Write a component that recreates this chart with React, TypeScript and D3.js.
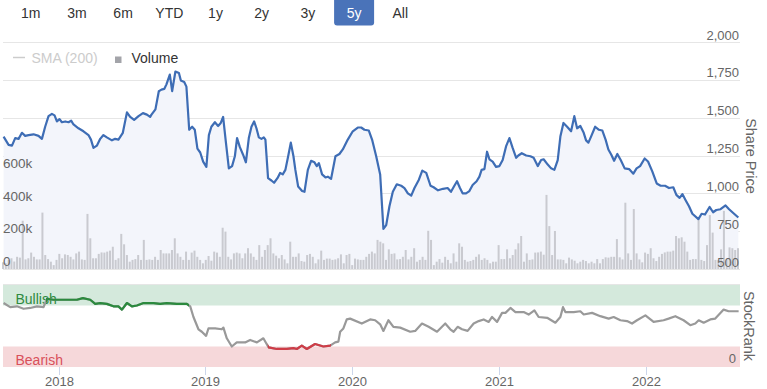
import React, { useEffect, useRef } from 'react';
import * as d3 from 'd3';

// Range selector
const rangeButtons = ['1m', '3m', '6m', 'YTD', '1y', '2y', '3y', '5y', 'All'];
const selectedRange = '5y';

// Share price, [decimal year, price]
const sharePrice = [
  [2017.626, 1375], [2017.66, 1320], [2017.683, 1315], [2017.705, 1365], [2017.728, 1360], [2017.751, 1400],
  [2017.773, 1380], [2017.796, 1385], [2017.83, 1390], [2017.864, 1380], [2017.887, 1360], [2017.909, 1440],
  [2017.932, 1510], [2017.955, 1525], [2017.973, 1515], [2017.989, 1475], [2018.007, 1490], [2018.023, 1470],
  [2018.046, 1475], [2018.068, 1470], [2018.086, 1480], [2018.102, 1455], [2018.136, 1430], [2018.17, 1410],
  [2018.204, 1385], [2018.221, 1355], [2018.238, 1300], [2018.261, 1315], [2018.284, 1360], [2018.306, 1385],
  [2018.329, 1370], [2018.364, 1350], [2018.386, 1360], [2018.408, 1355], [2018.438, 1400], [2018.466, 1535],
  [2018.488, 1505], [2018.515, 1485], [2018.545, 1510], [2018.575, 1530], [2018.602, 1520], [2018.624, 1505],
  [2018.633, 1520], [2018.66, 1555], [2018.683, 1675], [2018.701, 1685], [2018.72, 1690], [2018.735, 1720],
  [2018.758, 1785], [2018.774, 1675], [2018.796, 1805], [2018.82, 1795], [2018.833, 1745], [2018.856, 1735],
  [2018.871, 1705], [2018.89, 1420], [2018.91, 1440], [2018.928, 1420], [2018.946, 1295], [2018.965, 1270],
  [2018.985, 1210], [2019.007, 1175], [2019.024, 1385], [2019.041, 1440], [2019.065, 1470], [2019.087, 1445],
  [2019.105, 1465], [2019.121, 1505], [2019.139, 1345], [2019.16, 1165], [2019.182, 1180], [2019.201, 1245],
  [2019.216, 1365], [2019.235, 1305], [2019.257, 1255], [2019.276, 1205], [2019.296, 1365], [2019.314, 1440],
  [2019.332, 1475], [2019.348, 1430], [2019.364, 1370], [2019.382, 1360], [2019.398, 1370], [2019.409, 1355],
  [2019.427, 1100], [2019.45, 1085], [2019.468, 1070], [2019.491, 1100], [2019.509, 1135], [2019.527, 1125],
  [2019.545, 1155], [2019.564, 1245], [2019.582, 1335], [2019.6, 1245], [2019.613, 1155], [2019.632, 1045],
  [2019.659, 1015], [2019.675, 1010], [2019.698, 1155], [2019.72, 1215], [2019.743, 1205], [2019.759, 1180],
  [2019.773, 1200], [2019.795, 1125], [2019.818, 1105], [2019.834, 1110], [2019.856, 1095], [2019.886, 1245],
  [2019.913, 1260], [2019.936, 1290], [2019.97, 1355], [2020.004, 1410], [2020.038, 1435], [2020.061, 1435],
  [2020.083, 1420], [2020.113, 1415], [2020.135, 1355], [2020.163, 1245], [2020.19, 1125], [2020.212, 765],
  [2020.231, 790], [2020.253, 915], [2020.276, 1010], [2020.303, 1060], [2020.333, 1050], [2020.355, 1035],
  [2020.378, 1000], [2020.401, 985], [2020.423, 1035], [2020.453, 1090], [2020.476, 1150], [2020.503, 1135],
  [2020.532, 1050], [2020.553, 1040], [2020.583, 1020], [2020.617, 1030], [2020.648, 1035], [2020.671, 1010],
  [2020.694, 1050], [2020.712, 1080], [2020.732, 1035], [2020.75, 1000], [2020.773, 1000], [2020.796, 1015],
  [2020.818, 1055], [2020.845, 1080], [2020.864, 1110], [2020.879, 1155], [2020.898, 1160], [2020.916, 1275],
  [2020.932, 1225], [2020.954, 1210], [2020.977, 1175], [2021.0, 1180], [2021.022, 1220], [2021.045, 1310],
  [2021.068, 1365], [2021.09, 1300], [2021.114, 1235], [2021.129, 1250], [2021.152, 1265], [2021.182, 1250],
  [2021.211, 1245], [2021.233, 1235], [2021.261, 1180], [2021.284, 1220], [2021.301, 1225], [2021.329, 1190],
  [2021.352, 1165], [2021.374, 1155], [2021.397, 1220], [2021.415, 1375], [2021.436, 1465], [2021.461, 1440],
  [2021.488, 1410], [2021.51, 1510], [2021.529, 1430], [2021.551, 1445], [2021.574, 1400], [2021.59, 1350],
  [2021.606, 1335], [2021.624, 1375], [2021.652, 1440], [2021.678, 1420], [2021.701, 1415], [2021.723, 1355],
  [2021.742, 1290], [2021.762, 1255], [2021.781, 1215], [2021.803, 1260], [2021.826, 1220], [2021.853, 1165],
  [2021.883, 1160], [2021.912, 1130], [2021.934, 1165], [2021.958, 1180], [2021.989, 1230], [2022.012, 1210],
  [2022.041, 1145], [2022.071, 1065], [2022.098, 1050], [2022.128, 1050], [2022.155, 1035], [2022.184, 1040],
  [2022.205, 990], [2022.227, 970], [2022.246, 995], [2022.268, 955], [2022.291, 915], [2022.314, 865],
  [2022.355, 830], [2022.377, 865], [2022.4, 860], [2022.431, 910], [2022.455, 875], [2022.477, 890],
  [2022.506, 895], [2022.54, 920], [2022.564, 895], [2022.598, 865], [2022.627, 840],
];

// Weekly volume (thousands), first week below
const volumeStart = Date.UTC(2017, 7, 16);
const volumeK = [
  41, 35, 56, 66, 46, 75, 70, 297, 59, 66, 101, 75, 59, 59, 347, 86, 61, 45, 24, 56,
  93, 66, 90, 86, 75, 59, 96, 107, 59, 56, 339, 189, 66, 66, 93, 102, 101, 107, 113, 137,
  56, 66, 216, 152, 86, 45, 56, 61, 86, 56, 179, 56, 59,
  56, 75, 56, 117, 96, 96, 96, 117, 189, 96, 75, 56, 107, 56, 101, 113, 75, 56, 35, 56,
  80, 51, 107, 101, 75, 254, 230, 75, 59, 96, 101, 96, 66, 96, 128, 96, 75, 56, 147, 75,
  117, 147, 189, 96, 82, 66, 86, 59, 35, 168, 75, 75,
  96, 49, 45, 86, 93, 75, 35, 59, 113, 56, 64, 64, 56, 59, 66, 90, 35, 86, 93, 24,
  64, 59, 56, 56, 75, 93, 107, 96, 179, 168, 158, 56, 121, 93, 96, 59, 61, 75, 117, 59,
  75, 128, 45, 56, 75, 56, 235, 179, 24, 45, 61, 39, 75,
  56, 35, 96, 45, 158, 137, 56, 45, 49, 56, 75, 90, 56, 66, 56, 35, 45, 45, 147, 61,
  61, 121, 66, 86, 121, 158, 203, 45, 96, 56, 59, 101, 102, 107, 88, 456, 264, 86, 234, 59,
  59, 56, 35, 70, 59, 51, 35, 45, 56, 49, 35, 45,
  35, 61, 35, 61, 72, 70, 75, 75, 184, 72, 59, 408, 96, 56, 369, 96, 59, 41, 101, 93,
  128, 66, 49, 75, 93, 102, 107, 107, 113, 203, 189, 195, 168, 107, 56, 61, 61, 320, 56, 49,
  147, 332, 224, 56, 56, 121, 358, 59, 133, 128, 117, 128,
];

// StockRank, [decimal year, rank]
const stockRank = [
  [2017.626, 78], [2017.671, 73], [2017.717, 74], [2017.762, 71], [2017.807, 72], [2017.853, 74],
  [2017.898, 73], [2017.921, 83], [2017.966, 82], [2018.057, 82], [2018.125, 82], [2018.166, 84],
  [2018.216, 82], [2018.25, 77], [2018.284, 78], [2018.329, 77], [2018.374, 74], [2018.408, 74],
  [2018.432, 70], [2018.466, 78], [2018.5, 74], [2018.534, 75], [2018.579, 78], [2018.647, 78],
  [2018.692, 77], [2018.738, 78], [2018.806, 77], [2018.874, 77], [2018.897, 74], [2018.919, 61],
  [2018.953, 46], [2018.976, 43], [2019.005, 38], [2019.021, 47], [2019.067, 47], [2019.112, 46],
  [2019.123, 48], [2019.146, 35], [2019.18, 25], [2019.214, 30], [2019.271, 30], [2019.305, 33],
  [2019.351, 30], [2019.395, 35], [2019.43, 24], [2019.487, 22], [2019.555, 22], [2019.6, 23],
  [2019.623, 22], [2019.657, 26], [2019.691, 22], [2019.747, 28], [2019.804, 25], [2019.85, 26],
  [2019.884, 30], [2019.906, 31], [2019.918, 43], [2019.94, 47], [2019.963, 58], [2019.986, 59],
  [2020.065, 53], [2020.122, 58], [2020.156, 57], [2020.19, 52], [2020.212, 44], [2020.246, 57],
  [2020.28, 49], [2020.326, 48], [2020.394, 43], [2020.428, 44], [2020.474, 53], [2020.519, 49],
  [2020.576, 43], [2020.632, 53], [2020.666, 46], [2020.689, 43], [2020.716, 49], [2020.746, 46],
  [2020.784, 44], [2020.825, 53], [2020.859, 56], [2020.893, 58], [2020.927, 55], [2020.95, 61],
  [2020.984, 55], [2021.018, 66], [2021.041, 66], [2021.075, 72], [2021.109, 67], [2021.165, 67],
  [2021.199, 64], [2021.238, 69], [2021.267, 61], [2021.325, 60], [2021.381, 54], [2021.415, 61],
  [2021.433, 73], [2021.449, 67], [2021.506, 67], [2021.551, 68], [2021.574, 64], [2021.631, 66],
  [2021.687, 62], [2021.744, 59], [2021.778, 61], [2021.824, 57], [2021.869, 56], [2021.903, 53],
  [2021.937, 57], [2021.994, 63], [2022.05, 55], [2022.118, 57], [2022.152, 59], [2022.198, 62],
  [2022.254, 57], [2022.3, 51], [2022.334, 53], [2022.357, 57], [2022.391, 54], [2022.436, 58],
  [2022.47, 59], [2022.527, 70], [2022.561, 68], [2022.629, 68],
];
const bullishPeriod = [2017.915, 2018.888];
const bearishPeriod = [2019.425, 2019.855];

const priceTicks = [500, 750, 1000, 1250, 1500, 1750, 2000];
const volumeTicks = [0, 200000, 400000, 600000];
const yearTicks = [2018, 2019, 2020, 2021, 2022];

const FONT = '"Liberation Sans", Arial, Helvetica, sans-serif';

const toDate = t => {
  const y = Math.floor(t);
  const a = Date.UTC(y, 0, 1);
  const b = Date.UTC(y + 1, 0, 1);
  return new Date(a + (t - y) * (b - a));
};

const Chart = () => {
  const chartRef = useRef();

  useEffect(() => {
    const width = 767;
    const height = 389;
    const left = 3;
    const right = 740;

    d3.select(chartRef.current).select('svg').remove();

    const svg = d3
      .select(chartRef.current)
      .append('svg')
      .attr('width', width)
      .attr('height', height)
      .style('position', 'absolute')
      .style('left', 0)
      .style('top', 0)
      .style('font-family', FONT)
      .style('background', '#fff');

    const x = d3
      .scaleUtc()
      .domain([new Date(Date.UTC(2017, 7, 16)), new Date(Date.UTC(2022, 7, 22))])
      .range([left, right]);

    const yPrice = d3.scaleLinear().domain([500, 2000]).range([269, 42]);
    const yVol = d3.scaleLinear().domain([0, 600000]).range([269, 171.5]);
    const yRank = d3.scaleLinear().domain([0, 100]).range([367, 285]);

    // Range selector buttons
    const btn = svg.append('g');
    rangeButtons.forEach((label, i) => {
      const cx = 30.7 + i * 46.2;
      if (label === selectedRange) {
        btn.append('rect')
          .attr('x', cx - 20).attr('y', -3).attr('width', 40).attr('height', 28.5)
          .attr('rx', 3).attr('fill', '#4a73b9');
      }
      btn.append('text')
        .attr('x', cx).attr('y', 18.3)
        .attr('text-anchor', 'middle')
        .attr('font-size', 14)
        .attr('fill', label === selectedRange ? '#fff' : '#333')
        .text(label);
    });

    // Legend
    svg.append('line')
      .attr('x1', 13).attr('x2', 25).attr('y1', 57.5).attr('y2', 57.5)
      .attr('stroke', '#ccc').attr('stroke-width', 1.5);
    svg.append('text')
      .attr('x', 31.5).attr('y', 63).attr('font-size', 14).attr('fill', '#ccc')
      .text('SMA (200)');
    svg.append('rect')
      .attr('x', 115).attr('y', 56.5).attr('width', 6.5).attr('height', 6.5)
      .attr('fill', '#a3a4a9');
    svg.append('text')
      .attr('x', 131.5).attr('y', 63).attr('font-size', 14).attr('fill', '#333')
      .text('Volume');

    // Price grid
    svg.append('g')
      .selectAll('line')
      .data(priceTicks)
      .enter()
      .append('line')
      .attr('x1', left).attr('x2', right)
      .attr('y1', d => Math.round(yPrice(d)) + 0.5)
      .attr('y2', d => Math.round(yPrice(d)) + 0.5)
      .attr('stroke', '#e6e6e6');

    const priceData = sharePrice.map(([t, p]) => ({ date: toDate(t), p }));

    // Area under the price line
    svg.append('path')
      .datum(priceData)
      .attr('fill', '#f3f5fb')
      .attr('d', d3.area().x(d => x(d.date)).y0(yPrice(500)).y1(d => yPrice(d.p)));

    // Volume bars
    const volData = volumeK.map((v, i) => ({ date: new Date(volumeStart + i * 7 * 864e5), v: v * 1000 }));
    svg.append('g')
      .selectAll('rect')
      .data(volData)
      .enter()
      .append('rect')
      .attr('x', d => x(d.date) - 1)
      .attr('y', d => yVol(d.v))
      .attr('width', 2)
      .attr('height', d => yVol(0) - yVol(d.v))
      .attr('fill', '#c9cad0');

    // Price line
    svg.append('path')
      .datum(priceData)
      .attr('fill', 'none')
      .attr('stroke', '#3e6db5')
      .attr('stroke-width', 2.2)
      .attr('stroke-linejoin', 'round')
      .attr('d', d3.line().x(d => x(d.date)).y(d => yPrice(d.p)));

    // Price labels (right)
    svg.append('g')
      .selectAll('text')
      .data(priceTicks)
      .enter()
      .append('text')
      .attr('x', 739)
      .attr('y', d => yPrice(d) - 2.5)
      .attr('text-anchor', 'end')
      .attr('font-size', 13)
      .attr('fill', '#666')
      .text(d => d3.format(',')(d));

    // Volume labels (left)
    svg.append('g')
      .selectAll('text')
      .data(volumeTicks)
      .enter()
      .append('text')
      .attr('x', 3)
      .attr('y', d => yVol(d) - 3.5)
      .attr('font-size', 13.5)
      .attr('fill', '#666')
      .text(d => (d === 0 ? '0' : `${d / 1000}k`));

    // Axis titles
    svg.append('text')
      .attr('transform', 'translate(745.5,156) rotate(90)')
      .attr('text-anchor', 'middle')
      .attr('font-size', 14.5)
      .attr('fill', '#666')
      .text('Share Price');
    svg.append('text')
      .attr('transform', 'translate(744,326) rotate(90)')
      .attr('text-anchor', 'middle')
      .attr('font-size', 14.5)
      .attr('fill', '#666')
      .text('StockRank');

    // StockRank panel
    svg.append('line')
      .attr('x1', left).attr('x2', right).attr('y1', 284.5).attr('y2', 284.5)
      .attr('stroke', '#e6e6e6');
    svg.append('rect')
      .attr('x', left).attr('width', right - left)
      .attr('y', yRank(100)).attr('height', yRank(75) - yRank(100))
      .attr('fill', '#d4e9dc');
    svg.append('rect')
      .attr('x', left).attr('width', right - left)
      .attr('y', yRank(25)).attr('height', yRank(0) - yRank(25))
      .attr('fill', '#f6d8da');
    svg.append('text')
      .attr('x', 15.5).attr('y', 304).attr('font-size', 14).attr('fill', '#2f8a41')
      .text('Bullish');
    svg.append('text')
      .attr('x', 15.5).attr('y', 365).attr('font-size', 14).attr('fill', '#d9505a')
      .text('Bearish');

    const rankData = stockRank.map(([t, r]) => ({ date: toDate(t), r }));
    const rankLine = d3.line().x(d => x(d.date)).y(d => yRank(d.r));

    const defs = svg.append('defs');
    [['bull-clip', bullishPeriod], ['bear-clip', bearishPeriod]].forEach(([id, p]) => {
      defs.append('clipPath').attr('id', id)
        .append('rect')
        .attr('x', x(toDate(p[0]))).attr('width', x(toDate(p[1])) - x(toDate(p[0])))
        .attr('y', 270).attr('height', 110);
    });

    svg.append('path')
      .datum(rankData)
      .attr('fill', 'none').attr('stroke', '#999').attr('stroke-width', 2.2)
      .attr('stroke-linejoin', 'round')
      .attr('d', rankLine);
    svg.append('path')
      .datum(rankData)
      .attr('clip-path', 'url(#bull-clip)')
      .attr('fill', 'none').attr('stroke', '#2b8a3e').attr('stroke-width', 2.2)
      .attr('stroke-linejoin', 'round')
      .attr('d', rankLine);
    svg.append('path')
      .datum(rankData)
      .attr('clip-path', 'url(#bear-clip)')
      .attr('fill', 'none').attr('stroke', '#cf3c47').attr('stroke-width', 2.2)
      .attr('stroke-linejoin', 'round')
      .attr('d', rankLine);

    svg.append('text')
      .attr('x', 736).attr('y', 363).attr('text-anchor', 'end')
      .attr('font-size', 13).attr('fill', '#666')
      .text('0');

    // X axis
    const xa = svg.append('g');
    yearTicks.forEach(yr => {
      const px = Math.round(x(new Date(Date.UTC(yr, 0, 1)))) + 0.5;
      xa.append('line')
        .attr('x1', px).attr('x2', px).attr('y1', 367).attr('y2', 375)
        .attr('stroke', '#ccd6eb');
      xa.append('text')
        .attr('x', px).attr('y', 386)
        .attr('text-anchor', 'middle')
        .attr('font-size', 13)
        .attr('fill', '#666')
        .text(yr);
    });
  }, []);

  return <div ref={chartRef}></div>;
};

export default function App() {
  return <Chart />;
}
